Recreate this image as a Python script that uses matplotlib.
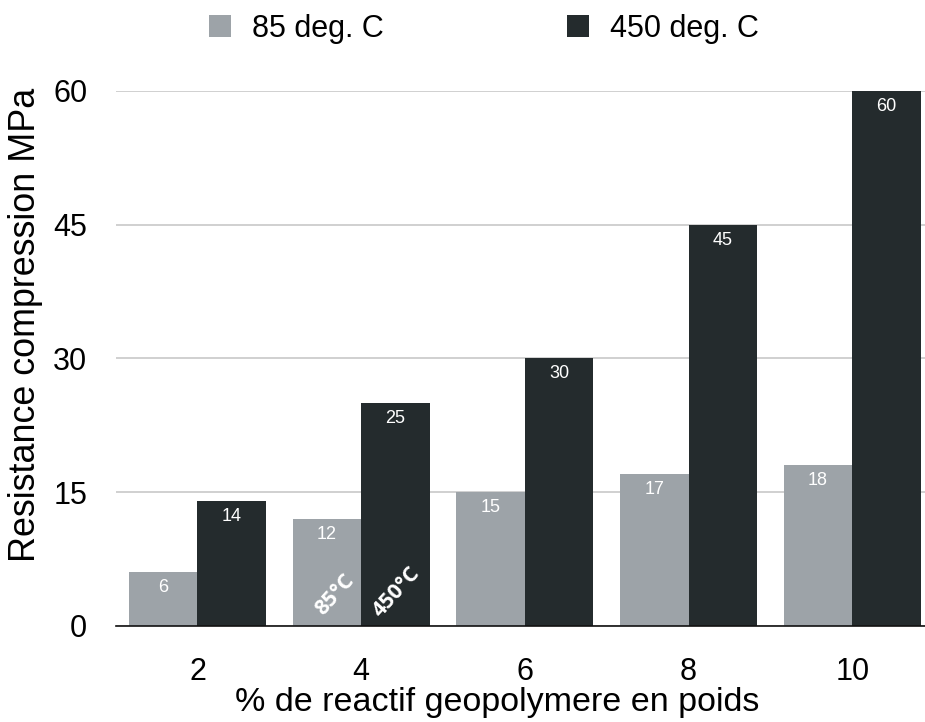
import matplotlib
matplotlib.use("Agg")
import matplotlib.pyplot as plt
import numpy as np

categories = ["2", "4", "6", "8", "10"]
values_85 = [6, 12, 15, 17, 18]
values_450 = [14, 25, 30, 45, 60]
series_labels = ["85 deg. C", "450 deg. C"]
y_ticks = [0, 15, 30, 45, 60]

color_85 = "#9da3a8"
color_450 = "#242b2d"

plt.rcParams["font.family"] = ["Liberation Sans", "DejaVu Sans"]

fig = plt.figure(figsize=(9.25, 7.22), dpi=100)
ax = fig.add_axes([0.125, 0.133, 0.8848, 0.741])

x = np.arange(len(categories))
w = 0.418
bars_85 = ax.bar(x - w / 2, values_85, w, color=color_85, label=series_labels[0], zorder=2)
bars_450 = ax.bar(x + w / 2, values_450, w, color=color_450, label=series_labels[1], zorder=2)

for bars in (bars_85, bars_450):
    for bar in bars:
        h = bar.get_height()
        ax.annotate(f"{h:g}", (bar.get_x() + bar.get_width() / 2, h),
                    xytext=(0, -11), textcoords="offset points",
                    ha="center", va="center", color="white", fontsize=13, zorder=3)

# rotated labels inside the 4% group
ax.text(1 - w / 2 + 0.05, 3.5, "85°C", rotation=48, ha="center", va="center",
        color="white", fontsize=15.5, fontweight="bold", family=["Open Sans", "DejaVu Sans"], zorder=3)
ax.text(1 + w / 2 + 0.01, 3.8, "450°C", rotation=48, ha="center", va="center",
        color="white", fontsize=15.5, fontweight="bold", family=["Open Sans", "DejaVu Sans"], zorder=3)

ax.set_xlim(-0.5, len(categories) - 0.5)
ax.set_ylim(0, 60)
ax.set_xticks(x)
ax.set_xticklabels(categories)
ax.set_yticks(y_ticks)
ax.tick_params(axis="both", length=0, labelsize=22)
ax.tick_params(axis="y", pad=20.5)
ax.tick_params(axis="x", pad=22)
ax.grid(axis="y", color="#c8c8c8", linewidth=1.2, zorder=0)
ax.set_axisbelow(True)
for s in ["top", "right", "left"]:
    ax.spines[s].set_visible(False)
ax.spines["bottom"].set_color("#111111")
ax.spines["bottom"].set_linewidth(1.2)
ax.spines["bottom"].set_zorder(4)

ax.set_xlabel("% de reactif geopolymere en poids", fontsize=24.5)
ax.set_ylabel("Resistance compression MPa", fontsize=25.8)
ax.xaxis.set_label_coords(0.466, -0.114)
ax.yaxis.set_label_coords(-0.0887, 0.563)

fig.legend(loc="center", bbox_to_anchor=(484 / 925, 1 - 29 / 722), ncol=2, frameon=False,
           fontsize=22, handlelength=0.72, handleheight=0.72, handletextpad=0.69,
           columnspacing=6.0)

fig.savefig("out.png", dpi=100)
